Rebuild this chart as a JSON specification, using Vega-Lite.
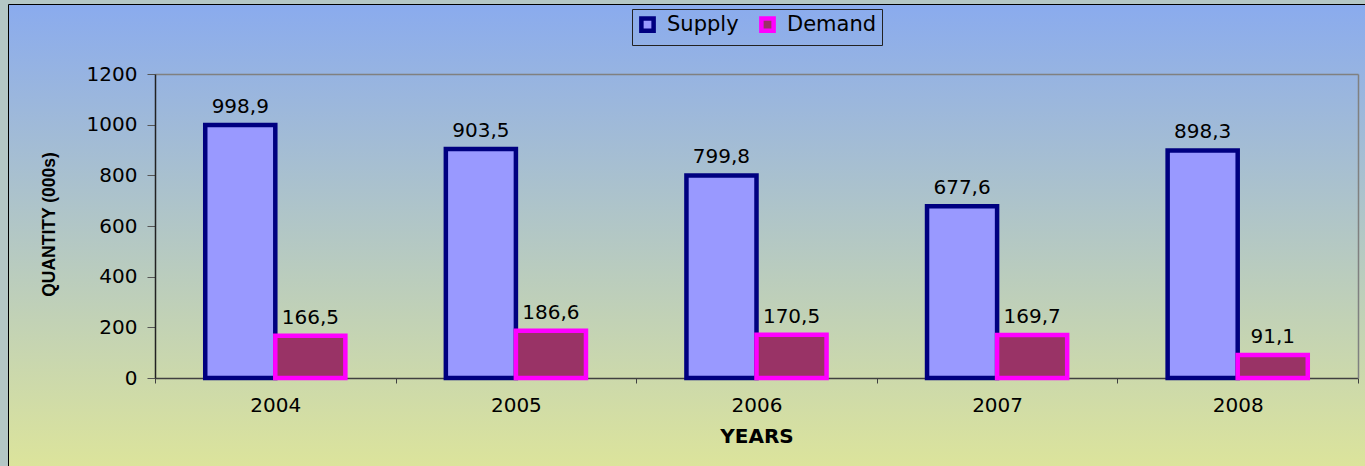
{
  "$schema": "https://vega.github.io/schema/vega-lite/v6.json",
  "width": 1358,
  "height": 463,
  "autosize": {"type": "none"},
  "padding": {"left": 8, "top": 4, "right": 0, "bottom": 0},
  "background": "#b4c7c5",
  "config": {
    "locale": {"number": {"decimal": ",", "thousands": ".", "grouping": [3], "currency": ["", ""]}},
    "view": {
      "fill": {"gradient": "linear", "x1": 0, "y1": 0, "x2": 0, "y2": 1,
        "stops": [{"offset": 0, "color": "#8aabee"}, {"offset": 1, "color": "#dce49b"}]},
      "stroke": "#000000",
      "strokeWidth": 1
    },
    "axis": {"grid": false, "labelFont": "DejaVu Sans", "labelFontSize": 20, "labelColor": "#000000"},
    "legend": {
      "orient": "none", "legendX": 624, "legendY": 5, "direction": "horizontal", "columns": 2,
      "strokeColor": "#222222", "padding": 5, "labelFont": "DejaVu Sans", "labelFontSize": 21,
      "labelColor": "#000000", "symbolType": "square", "symbolSize": 150, "symbolStrokeWidth": 4.5,
      "labelOffset": 9, "columnPadding": 13
    }
  },
  "data": {"values": [
    {"year": "2004", "series": "Supply", "value": 998.9},
    {"year": "2004", "series": "Demand", "value": 166.5},
    {"year": "2005", "series": "Supply", "value": 903.5},
    {"year": "2005", "series": "Demand", "value": 186.6},
    {"year": "2006", "series": "Supply", "value": 799.8},
    {"year": "2006", "series": "Demand", "value": 170.5},
    {"year": "2007", "series": "Supply", "value": 677.6},
    {"year": "2007", "series": "Demand", "value": 169.7},
    {"year": "2008", "series": "Supply", "value": 898.3},
    {"year": "2008", "series": "Demand", "value": 91.1}
  ]},
  "resolve": {"axis": {"x": "independent", "y": "independent"}},
  "layer": [
    {
      "mark": {"type": "bar", "strokeWidth": 4.5},
      "encoding": {
        "x": {"field": "year", "type": "ordinal",
          "scale": {"range": [147, 1350], "paddingInner": 0, "paddingOuter": 0},
          "axis": {"orient": "bottom", "offset": -89, "title": "YEARS", "labelAngle": 0, "tickBand": "extent",
            "tickSize": 5, "domainColor": "#404040", "domainWidth": 1.5, "tickColor": "#404040",
            "labelBaseline": "middle", "labelPadding": 22, "titleX": 748.5, "titleY": 58,
            "titleBaseline": "middle", "titleFont": "DejaVu Sans", "titleFontSize": 20,
            "titleFontWeight": "bold", "titleColor": "#000000"}},
        "y": {"field": "value", "type": "quantitative",
          "scale": {"domain": [0, 1200], "range": [374, 70], "nice": false, "zero": true},
          "axis": {"orient": "left", "offset": -147, "values": [0, 200, 400, 600, 800, 1000, 1200], "format": "d",
            "tickSize": 8, "labelPadding": 10, "domainColor": "#222222", "domainWidth": 1.5, "tickColor": "#555555",
            "title": "QUANTITY (000s)", "titleFont": "Liberation Sans", "titleFontSize": 17.5,
            "titleFontWeight": "bold", "titleAngle": -90, "titleX": -105.5, "titleY": 220,
            "titleBaseline": "middle", "titleAlign": "center", "titleColor": "#000000"}},
        "xOffset": {"field": "series", "type": "nominal", "sort": ["Supply", "Demand"],
          "scale": {"paddingInner": 0, "paddingOuter": 0.717}},
        "color": {"field": "series", "type": "nominal", "sort": ["Supply", "Demand"],
          "scale": {"domain": ["Supply", "Demand"], "range": ["#9999ff", "#993366"]},
          "legend": {"title": null, "orient": "none", "legendX": 624, "legendY": 5}},
        "stroke": {"field": "series", "type": "nominal", "sort": ["Supply", "Demand"],
          "scale": {"domain": ["Supply", "Demand"], "range": ["#000080", "#ff00ff"]},
          "legend": {"title": null, "orient": "none", "legendX": 624, "legendY": 5}}
      }
    },
    {
      "mark": {"type": "text", "font": "DejaVu Sans", "fontSize": 20, "baseline": "alphabetic", "dy": -12, "color": "#000000"},
      "encoding": {
        "x": {"field": "year", "type": "ordinal",
          "axis": {"orient": "top", "offset": -70, "domainColor": "#808080", "domainWidth": 1.5,
            "ticks": false, "labels": false, "title": null}},
        "y": {"field": "value", "type": "quantitative",
          "axis": {"orient": "right", "offset": -8, "domainColor": "#808080", "domainWidth": 1.5,
            "ticks": false, "labels": false, "title": null}},
        "xOffset": {"field": "series", "type": "nominal", "sort": ["Supply", "Demand"]},
        "text": {"field": "value", "type": "quantitative", "format": ".1f"}
      }
    }
  ]
}
